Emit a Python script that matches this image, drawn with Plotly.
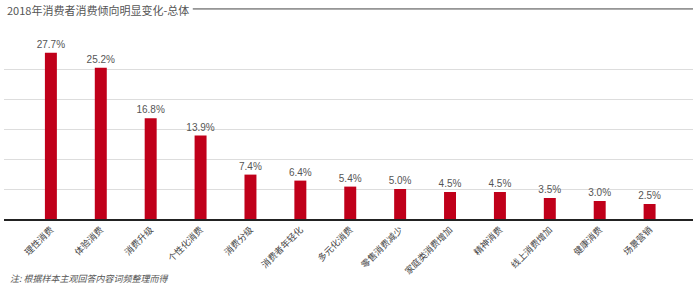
import plotly.graph_objects as go

categories = ["理性消费", "体验消费", "消费升级", "个性化消费", "消费分级", "消费者年轻化",
              "多元化消费", "零售消费减少", "家庭类消费增加", "精神消费", "线上消费增加",
              "健康消费", "场景营销"]
values = [27.7, 25.2, 16.8, 13.9, 7.4, 6.4, 5.4, 5.0, 4.5, 4.5, 3.5, 3.0, 2.5]
labels = [f"{v:.1f}%" for v in values]

FONT = "Liberation Sans, Arial, Noto Sans CJK SC, sans-serif"

fig = go.Figure(go.Bar(
    x=categories, y=values, text=labels, textposition="outside",
    constraintext="none",
    textfont=dict(size=10, color="#555555", family=FONT),
    marker=dict(color="#c0001a", line=dict(width=0)),
    width=0.24, cliponaxis=False,
))

fig.update_layout(
    width=700, height=286,
    margin=dict(l=4, r=7, t=39, b=67),
    paper_bgcolor="white", plot_bgcolor="white",
    showlegend=False,
    font=dict(family=FONT),
    xaxis=dict(
        range=[-0.94, 12.87], tickangle=-45,
        tickfont=dict(size=9, color="#444444", family="Noto Sans CJK SC, sans-serif"),
        showline=True, linecolor="#222222", linewidth=2,
        ticks="", showgrid=False, fixedrange=True,
    ),
    yaxis=dict(
        range=[0, 30], dtick=5, showticklabels=False,
        showgrid=True, gridcolor="#dddddd", gridwidth=1,
        zeroline=False, fixedrange=True,
    ),
    annotations=[
        dict(text="2018年消费者消费倾向明显变化-总体", xref="paper", yref="paper",
             x=0.0015, y=1.161, xanchor="left", yanchor="middle", showarrow=False,
             font=dict(size=11, color="#555555", family="Noto Sans CJK SC, sans-serif")),
        dict(text="<i>注: 根据样本主观回答内容词频整理而得</i>", xref="paper", yref="paper",
             x=0.006, y=-0.328, xanchor="left", yanchor="middle", showarrow=False,
             font=dict(size=9, color="#555555", family="Noto Sans CJK SC, sans-serif")),
    ],
    shapes=[
        dict(type="line", xref="paper", yref="paper", x0=0.274, x1=1.0, y0=1.167, y1=1.167,
             line=dict(color="#444444", width=1)),
    ],
)

fig.write_html("out.html")
